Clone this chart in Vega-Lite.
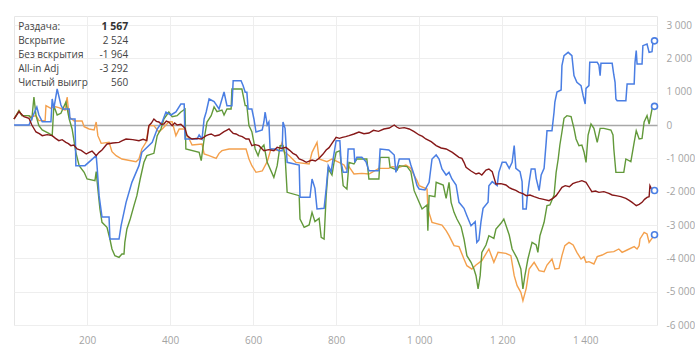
{
  "$schema": "https://vega.github.io/schema/vega-lite/v6.json",
  "width": 643,
  "height": 309,
  "padding": {"left": 11, "top": 16, "right": 0, "bottom": 0},
  "config": {
    "locale": {"number": {"decimal": ",", "thousands": " ", "grouping": [3], "currency": ["", ""], "minus": "-"}},
    "view": {"stroke": "#e6e6e6"},
    "font": "Open Sans",
    "axis": {"labelFont": "Open Sans", "labelFontSize": 10, "labelColor": "#a3a3a3", "gridColor": "#eeeeee", "domain": false, "ticks": false, "title": null, "labelOverlap": false}
  },
  "datasets": {
    "showdown": [
      {"h":24,"v":0},{"h":60,"v":0},{"h":67,"v":200},{"h":79,"v":540},{"h":84,"v":300},{"h":92,"v":100},{"h":113,"v":100},{"h":116,"v":780},{"h":120,"v":500},{"h":128,"v":1080},{"h":137,"v":600},{"h":142,"v":480},{"h":157,"v":480},{"h":159,"v":180},{"h":171,"v":180},{"h":173,"v":-1220},{"h":195,"v":-1220},{"h":222,"v":-920},{"h":224,"v":-1220},{"h":229,"v":-2120},{"h":236,"v":-2760},{"h":253,"v":-2760},{"h":255,"v":-3420},{"h":277,"v":-3420},{"h":282,"v":-3020},{"h":294,"v":-2320},{"h":308,"v":-1720},{"h":325,"v":-1220},{"h":332,"v":-820},{"h":357,"v":-520},{"h":369,"v":-120},{"h":381,"v":90},{"h":390,"v":390},{"h":402,"v":300},{"h":414,"v":390},{"h":426,"v":630},{"h":434,"v":630},{"h":436,"v":-420},{"h":465,"v":-420},{"h":470,"v":-300},{"h":477,"v":-420},{"h":482,"v":180},{"h":487,"v":390},{"h":494,"v":780},{"h":506,"v":700},{"h":518,"v":480},{"h":530,"v":990},{"h":537,"v":580},{"h":549,"v":580},{"h":552,"v":1330},{"h":571,"v":1330},{"h":576,"v":1180},{"h":581,"v":980},{"h":585,"v":980},{"h":588,"v":480},{"h":597,"v":480},{"h":602,"v":180},{"h":607,"v":-210},{"h":622,"v":-150},{"h":626,"v":90},{"h":629,"v":390},{"h":634,"v":0},{"h":638,"v":90},{"h":641,"v":-720},{"h":655,"v":-720},{"h":662,"v":-770},{"h":670,"v":-770},{"h":672,"v":90},{"h":677,"v":-100},{"h":682,"v":-1120},{"h":711,"v":-1200},{"h":713,"v":-2170},{"h":737,"v":-2170},{"h":742,"v":-1620},{"h":749,"v":-1900},{"h":754,"v":-2520},{"h":771,"v":-2500},{"h":776,"v":-1920},{"h":781,"v":-1220},{"h":788,"v":-1400},{"h":793,"v":-1000},{"h":800,"v":-470},{"h":809,"v":-470},{"h":812,"v":-1120},{"h":817,"v":-1420},{"h":826,"v":-1420},{"h":829,"v":-720},{"h":843,"v":-720},{"h":845,"v":-1120},{"h":850,"v":-970},{"h":862,"v":-970},{"h":872,"v":-1100},{"h":879,"v":-1370},{"h":903,"v":-1370},{"h":906,"v":-720},{"h":927,"v":-750},{"h":940,"v":-900},{"h":944,"v":-1420},{"h":952,"v":-1020},{"h":976,"v":-1020},{"h":980,"v":-1200},{"h":988,"v":-1500},{"h":995,"v":-1820},{"h":1000,"v":-1920},{"h":1014,"v":-1950},{"h":1024,"v":-1720},{"h":1031,"v":-1020},{"h":1041,"v":-900},{"h":1048,"v":-1020},{"h":1055,"v":-1320},{"h":1065,"v":-1500},{"h":1072,"v":-1420},{"h":1079,"v":-1620},{"h":1089,"v":-1800},{"h":1096,"v":-2320},{"h":1108,"v":-2500},{"h":1115,"v":-2720},{"h":1125,"v":-3020},{"h":1135,"v":-2900},{"h":1139,"v":-3520},{"h":1144,"v":-3450},{"h":1149,"v":-2900},{"h":1154,"v":-2500},{"h":1166,"v":-2320},{"h":1168,"v":-1820},{"h":1176,"v":-1700},{"h":1188,"v":-1820},{"h":1192,"v":-1420},{"h":1200,"v":-1120},{"h":1209,"v":-1120},{"h":1217,"v":-1300},{"h":1224,"v":-1120},{"h":1229,"v":-620},{"h":1233,"v":-1300},{"h":1243,"v":-1400},{"h":1248,"v":-1700},{"h":1250,"v":-2520},{"h":1258,"v":-2520},{"h":1260,"v":-2200},{"h":1265,"v":-1720},{"h":1270,"v":-1320},{"h":1279,"v":-1320},{"h":1282,"v":-1600},{"h":1289,"v":-1970},{"h":1294,"v":-1500},{"h":1301,"v":-1300},{"h":1306,"v":-520},{"h":1308,"v":-170},{"h":1320,"v":-170},{"h":1325,"v":390},{"h":1327,"v":690},{"h":1332,"v":990},{"h":1342,"v":1050},{"h":1344,"v":1780},{"h":1349,"v":2080},{"h":1359,"v":2180},{"h":1368,"v":2080},{"h":1373,"v":1480},{"h":1380,"v":1280},{"h":1390,"v":1180},{"h":1395,"v":880},{"h":1400,"v":630},{"h":1402,"v":1100},{"h":1409,"v":1180},{"h":1411,"v":1880},{"h":1429,"v":1880},{"h":1433,"v":1800},{"h":1436,"v":1480},{"h":1438,"v":1850},{"h":1465,"v":1850},{"h":1469,"v":1500},{"h":1472,"v":1280},{"h":1474,"v":780},{"h":1477,"v":730},{"h":1498,"v":730},{"h":1501,"v":1230},{"h":1518,"v":1230},{"h":1520,"v":1880},{"h":1523,"v":2230},{"h":1525,"v":1830},{"h":1537,"v":1830},{"h":1539,"v":2380},{"h":1549,"v":2430},{"h":1554,"v":2180},{"h":1561,"v":2200},{"h":1563,"v":2450},{"h":1567,"v":2524}
    ],
    "net": [
      {"h":24,"v":180},{"h":36,"v":430},{"h":43,"v":280},{"h":60,"v":280},{"h":67,"v":180},{"h":72,"v":840},{"h":77,"v":280},{"h":84,"v":-20},{"h":92,"v":-150},{"h":108,"v":-250},{"h":116,"v":-320},{"h":120,"v":580},{"h":128,"v":300},{"h":137,"v":350},{"h":149,"v":690},{"h":157,"v":180},{"h":164,"v":-120},{"h":173,"v":-820},{"h":181,"v":-1220},{"h":193,"v":-1420},{"h":200,"v":-1620},{"h":219,"v":-1670},{"h":222,"v":-1400},{"h":226,"v":-1920},{"h":231,"v":-2520},{"h":236,"v":-2920},{"h":248,"v":-3070},{"h":255,"v":-3420},{"h":260,"v":-3720},{"h":267,"v":-3920},{"h":277,"v":-3970},{"h":284,"v":-3870},{"h":289,"v":-3870},{"h":291,"v":-3520},{"h":296,"v":-3120},{"h":304,"v":-2820},{"h":313,"v":-2420},{"h":320,"v":-2120},{"h":328,"v":-1620},{"h":337,"v":-1120},{"h":344,"v":-920},{"h":361,"v":-850},{"h":369,"v":-320},{"h":378,"v":-120},{"h":385,"v":180},{"h":397,"v":390},{"h":405,"v":250},{"h":417,"v":280},{"h":426,"v":390},{"h":436,"v":480},{"h":438,"v":-720},{"h":470,"v":-820},{"h":475,"v":-1070},{"h":482,"v":-420},{"h":489,"v":90},{"h":499,"v":280},{"h":506,"v":540},{"h":513,"v":400},{"h":525,"v":450},{"h":530,"v":300},{"h":537,"v":480},{"h":547,"v":480},{"h":549,"v":1080},{"h":573,"v":1080},{"h":581,"v":580},{"h":585,"v":580},{"h":590,"v":-20},{"h":597,"v":-200},{"h":605,"v":-720},{"h":612,"v":-920},{"h":617,"v":-720},{"h":626,"v":-600},{"h":634,"v":-1120},{"h":650,"v":-1570},{"h":658,"v":-1220},{"h":665,"v":-620},{"h":672,"v":-620},{"h":677,"v":-920},{"h":682,"v":-2020},{"h":711,"v":-2120},{"h":713,"v":-2820},{"h":723,"v":-3070},{"h":735,"v":-3000},{"h":742,"v":-2620},{"h":749,"v":-2900},{"h":759,"v":-2800},{"h":764,"v":-3370},{"h":771,"v":-3420},{"h":776,"v":-2120},{"h":781,"v":-1320},{"h":790,"v":-1500},{"h":795,"v":-1120},{"h":800,"v":-820},{"h":809,"v":-770},{"h":817,"v":-1820},{"h":826,"v":-1920},{"h":831,"v":-1120},{"h":843,"v":-1170},{"h":850,"v":-1020},{"h":874,"v":-1020},{"h":879,"v":-1620},{"h":903,"v":-1620},{"h":906,"v":-970},{"h":927,"v":-970},{"h":930,"v":-1270},{"h":947,"v":-1350},{"h":952,"v":-1220},{"h":971,"v":-1250},{"h":980,"v":-1400},{"h":988,"v":-1970},{"h":1000,"v":-2320},{"h":1007,"v":-2520},{"h":1019,"v":-2400},{"h":1021,"v":-3170},{"h":1024,"v":-2120},{"h":1038,"v":-2150},{"h":1041,"v":-1720},{"h":1058,"v":-1800},{"h":1065,"v":-2200},{"h":1072,"v":-1720},{"h":1077,"v":-2320},{"h":1084,"v":-2620},{"h":1091,"v":-2820},{"h":1101,"v":-3050},{"h":1108,"v":-3420},{"h":1115,"v":-3920},{"h":1125,"v":-4120},{"h":1132,"v":-4320},{"h":1137,"v":-4520},{"h":1142,"v":-4920},{"h":1147,"v":-4520},{"h":1151,"v":-3820},{"h":1161,"v":-3600},{"h":1168,"v":-3320},{"h":1180,"v":-3400},{"h":1185,"v":-3120},{"h":1197,"v":-2950},{"h":1204,"v":-2820},{"h":1217,"v":-3300},{"h":1224,"v":-3720},{"h":1236,"v":-4000},{"h":1245,"v":-4320},{"h":1250,"v":-4920},{"h":1255,"v":-4500},{"h":1262,"v":-4020},{"h":1272,"v":-3520},{"h":1282,"v":-3600},{"h":1286,"v":-3820},{"h":1291,"v":-3320},{"h":1301,"v":-2920},{"h":1308,"v":-2420},{"h":1315,"v":-2400},{"h":1325,"v":-2100},{"h":1330,"v":-1420},{"h":1335,"v":-1020},{"h":1339,"v":-600},{"h":1344,"v":-210},{"h":1349,"v":200},{"h":1356,"v":280},{"h":1366,"v":250},{"h":1373,"v":-100},{"h":1378,"v":-420},{"h":1385,"v":-620},{"h":1392,"v":-600},{"h":1397,"v":-800},{"h":1402,"v":-1120},{"h":1407,"v":-300},{"h":1414,"v":30},{"h":1421,"v":-100},{"h":1429,"v":-520},{"h":1436,"v":-100},{"h":1445,"v":-100},{"h":1462,"v":-150},{"h":1467,"v":-300},{"h":1469,"v":-720},{"h":1474,"v":-1420},{"h":1493,"v":-1420},{"h":1498,"v":-1020},{"h":1510,"v":-1100},{"h":1518,"v":-520},{"h":1523,"v":-170},{"h":1530,"v":-420},{"h":1537,"v":-400},{"h":1542,"v":90},{"h":1549,"v":280},{"h":1554,"v":30},{"h":1561,"v":480},{"h":1567,"v":560}
    ],
    "allin": [
      {"h":24,"v":180},{"h":36,"v":430},{"h":43,"v":280},{"h":60,"v":280},{"h":67,"v":250},{"h":77,"v":280},{"h":84,"v":130},{"h":99,"v":130},{"h":101,"v":580},{"h":113,"v":500},{"h":120,"v":560},{"h":132,"v":520},{"h":140,"v":480},{"h":147,"v":450},{"h":152,"v":840},{"h":157,"v":240},{"h":169,"v":120},{"h":188,"v":120},{"h":193,"v":-50},{"h":205,"v":-120},{"h":217,"v":-150},{"h":222,"v":90},{"h":226,"v":-320},{"h":234,"v":-550},{"h":253,"v":-520},{"h":260,"v":-800},{"h":270,"v":-920},{"h":284,"v":-1020},{"h":318,"v":-1100},{"h":325,"v":-1020},{"h":332,"v":-720},{"h":342,"v":-520},{"h":349,"v":-20},{"h":361,"v":-20},{"h":373,"v":-210},{"h":381,"v":-120},{"h":397,"v":90},{"h":405,"v":100},{"h":414,"v":-320},{"h":422,"v":-120},{"h":434,"v":-120},{"h":441,"v":-320},{"h":446,"v":-420},{"h":453,"v":-600},{"h":477,"v":-570},{"h":482,"v":-870},{"h":494,"v":-920},{"h":511,"v":-1000},{"h":518,"v":-850},{"h":525,"v":-770},{"h":542,"v":-720},{"h":583,"v":-720},{"h":590,"v":-1020},{"h":597,"v":-1220},{"h":607,"v":-1420},{"h":622,"v":-1380},{"h":634,"v":-1100},{"h":643,"v":-720},{"h":662,"v":-770},{"h":670,"v":-520},{"h":675,"v":-800},{"h":687,"v":-920},{"h":703,"v":-1120},{"h":735,"v":-1170},{"h":742,"v":-820},{"h":754,"v":-520},{"h":759,"v":-1020},{"h":778,"v":-1100},{"h":790,"v":-1020},{"h":807,"v":-1120},{"h":819,"v":-1200},{"h":824,"v":-1320},{"h":831,"v":-1250},{"h":843,"v":-1470},{"h":862,"v":-1450},{"h":879,"v":-1470},{"h":903,"v":-1300},{"h":927,"v":-1300},{"h":935,"v":-1250},{"h":952,"v":-1270},{"h":968,"v":-1200},{"h":980,"v":-1300},{"h":988,"v":-1520},{"h":995,"v":-1670},{"h":1000,"v":-1820},{"h":1019,"v":-1920},{"h":1021,"v":-2520},{"h":1031,"v":-2920},{"h":1055,"v":-3000},{"h":1065,"v":-3170},{"h":1072,"v":-3320},{"h":1084,"v":-3620},{"h":1096,"v":-3650},{"h":1108,"v":-4020},{"h":1115,"v":-4220},{"h":1127,"v":-4320},{"h":1137,"v":-4200},{"h":1151,"v":-4070},{"h":1168,"v":-3720},{"h":1180,"v":-4120},{"h":1190,"v":-3820},{"h":1209,"v":-3850},{"h":1221,"v":-3920},{"h":1229,"v":-4520},{"h":1236,"v":-4820},{"h":1245,"v":-5020},{"h":1250,"v":-5270},{"h":1258,"v":-4900},{"h":1265,"v":-4320},{"h":1277,"v":-4120},{"h":1289,"v":-4370},{"h":1301,"v":-4400},{"h":1308,"v":-4200},{"h":1320,"v":-4020},{"h":1327,"v":-4320},{"h":1337,"v":-4300},{"h":1344,"v":-3920},{"h":1351,"v":-3620},{"h":1361,"v":-3520},{"h":1371,"v":-3600},{"h":1380,"v":-3820},{"h":1390,"v":-4020},{"h":1397,"v":-3950},{"h":1402,"v":-4120},{"h":1409,"v":-4100},{"h":1421,"v":-4170},{"h":1429,"v":-3950},{"h":1441,"v":-3900},{"h":1453,"v":-3820},{"h":1469,"v":-3800},{"h":1481,"v":-3720},{"h":1489,"v":-3820},{"h":1501,"v":-3750},{"h":1518,"v":-3650},{"h":1525,"v":-3720},{"h":1530,"v":-3620},{"h":1532,"v":-3420},{"h":1542,"v":-3220},{"h":1549,"v":-3270},{"h":1554,"v":-3520},{"h":1567,"v":-3292}
    ],
    "nonshowdown": [
      {"h":24,"v":180},{"h":36,"v":400},{"h":48,"v":250},{"h":60,"v":200},{"h":67,"v":0},{"h":77,"v":-210},{"h":85,"v":-260},{"h":92,"v":-320},{"h":104,"v":-290},{"h":116,"v":-320},{"h":124,"v":-400},{"h":132,"v":-470},{"h":140,"v":-440},{"h":149,"v":-520},{"h":155,"v":-560},{"h":161,"v":-620},{"h":168,"v":-600},{"h":176,"v":-720},{"h":186,"v":-760},{"h":198,"v":-870},{"h":205,"v":-820},{"h":212,"v":-780},{"h":217,"v":-850},{"h":222,"v":-920},{"h":229,"v":-820},{"h":236,"v":-750},{"h":248,"v":-570},{"h":262,"v":-540},{"h":277,"v":-520},{"h":285,"v":-470},{"h":294,"v":-420},{"h":310,"v":-440},{"h":325,"v":-470},{"h":335,"v":-430},{"h":344,"v":-470},{"h":349,"v":-20},{"h":355,"v":60},{"h":361,"v":180},{"h":367,"v":110},{"h":373,"v":90},{"h":379,"v":20},{"h":385,"v":30},{"h":391,"v":120},{"h":397,"v":90},{"h":405,"v":-20},{"h":411,"v":60},{"h":417,"v":0},{"h":426,"v":20},{"h":436,"v":-100},{"h":441,"v":-320},{"h":447,"v":-380},{"h":453,"v":-420},{"h":464,"v":-400},{"h":475,"v":-420},{"h":487,"v":-320},{"h":493,"v":-290},{"h":499,"v":-270},{"h":508,"v":-330},{"h":518,"v":-300},{"h":530,"v":-200},{"h":536,"v":-160},{"h":542,"v":-120},{"h":547,"v":-190},{"h":552,"v":-250},{"h":559,"v":-270},{"h":566,"v":-320},{"h":574,"v":-350},{"h":583,"v":-420},{"h":590,"v":-420},{"h":597,"v":-620},{"h":605,"v":-590},{"h":614,"v":-620},{"h":626,"v":-770},{"h":638,"v":-740},{"h":650,"v":-770},{"h":658,"v":-670},{"h":668,"v":-700},{"h":679,"v":-670},{"h":688,"v":-760},{"h":696,"v":-850},{"h":704,"v":-900},{"h":711,"v":-1020},{"h":720,"v":-1060},{"h":728,"v":-1120},{"h":742,"v":-1050},{"h":750,"v":-1080},{"h":759,"v":-1000},{"h":768,"v":-880},{"h":776,"v":-750},{"h":783,"v":-680},{"h":790,"v":-550},{"h":800,"v":-370},{"h":808,"v":-400},{"h":815,"v":-370},{"h":823,"v":-350},{"h":831,"v":-320},{"h":843,"v":-270},{"h":855,"v":-210},{"h":867,"v":-260},{"h":879,"v":-240},{"h":890,"v":-160},{"h":902,"v":-190},{"h":915,"v":-120},{"h":928,"v":-90},{"h":940,"v":0},{"h":946,"v":-60},{"h":952,"v":-100},{"h":964,"v":-80},{"h":976,"v":-120},{"h":988,"v":-200},{"h":1000,"v":-300},{"h":1008,"v":-340},{"h":1016,"v":-420},{"h":1029,"v":-500},{"h":1041,"v":-620},{"h":1053,"v":-690},{"h":1065,"v":-720},{"h":1080,"v":-820},{"h":1096,"v":-970},{"h":1103,"v":-1000},{"h":1108,"v":-1120},{"h":1113,"v":-1270},{"h":1125,"v":-1380},{"h":1137,"v":-1470},{"h":1144,"v":-1440},{"h":1151,"v":-1500},{"h":1161,"v":-1350},{"h":1168,"v":-1320},{"h":1176,"v":-1400},{"h":1185,"v":-1770},{"h":1197,"v":-1760},{"h":1209,"v":-1800},{"h":1217,"v":-1880},{"h":1224,"v":-1920},{"h":1233,"v":-1960},{"h":1241,"v":-2020},{"h":1250,"v":-2060},{"h":1258,"v":-2120},{"h":1267,"v":-2100},{"h":1277,"v":-2150},{"h":1289,"v":-2200},{"h":1300,"v":-2230},{"h":1313,"v":-2270},{"h":1322,"v":-2200},{"h":1330,"v":-2120},{"h":1337,"v":-2000},{"h":1344,"v":-1870},{"h":1352,"v":-1820},{"h":1362,"v":-1850},{"h":1370,"v":-1760},{"h":1378,"v":-1720},{"h":1385,"v":-1700},{"h":1392,"v":-1670},{"h":1402,"v":-1720},{"h":1409,"v":-1860},{"h":1416,"v":-2000},{"h":1425,"v":-1980},{"h":1433,"v":-2020},{"h":1445,"v":-2000},{"h":1457,"v":-2050},{"h":1465,"v":-2100},{"h":1474,"v":-2120},{"h":1486,"v":-2150},{"h":1498,"v":-2200},{"h":1506,"v":-2260},{"h":1513,"v":-2320},{"h":1518,"v":-2370},{"h":1523,"v":-2420},{"h":1530,"v":-2380},{"h":1537,"v":-2320},{"h":1543,"v":-2230},{"h":1549,"v":-2170},{"h":1554,"v":-2150},{"h":1556,"v":-1820},{"h":1561,"v":-1950},{"h":1567,"v":-1964}
    ],
    "ends": [
      {"h":1567,"v":2524},{"h":1567,"v":560},{"h":1567,"v":-1964},{"h":1567,"v":-3292}
    ],
    "summary": [
      {"label":"Раздача:","value":1567},
      {"label":"Вскрытие","value":2524},
      {"label":"Без вскрытия","value":-1964},
      {"label":"All-in Adj","value":-3292},
      {"label":"Чистый выигрыш","value":560}
    ]
  },
  "layer": [
    {
      "encoding": {
        "x": {"field": "h", "type": "quantitative", "scale": {"domain": [24, 1573], "nice": false, "zero": false},
              "axis": {"values": [200, 400, 600, 800, 1000, 1200, 1400], "format": ",d", "grid": true, "labelPadding": 10}},
        "y": {"field": "v", "type": "quantitative", "scale": {"domain": [-6000, 3270], "nice": false, "zero": false},
              "axis": {"orient": "right", "values": [-6000, -5000, -4000, -3000, -2000, -1000, 0, 1000, 2000, 3000], "format": ",d", "grid": true, "labelPadding": 9,
                       "gridColor": {"condition": {"test": "datum.value === 0", "value": "#a8a8a8"}, "value": "#eeeeee"},
                       "gridWidth": {"condition": {"test": "datum.value === 0", "value": 1.6}, "value": 1}}}
      },
      "layer": [
        {"data": {"name": "allin"}, "mark": {"type": "line", "color": "#f4a04c", "strokeWidth": 1.4}},
        {"data": {"name": "net"}, "mark": {"type": "line", "color": "#62993a", "strokeWidth": 1.4}},
        {"data": {"name": "showdown"}, "mark": {"type": "line", "color": "#4a7ee3", "strokeWidth": 1.5}},
        {"data": {"name": "nonshowdown"}, "mark": {"type": "line", "color": "#861818", "strokeWidth": 1.4}},
        {"data": {"name": "ends"}, "mark": {"type": "point", "shape": "circle", "filled": false, "fill": "#ffffff", "fillOpacity": 1, "stroke": "#4a7ee3", "strokeWidth": 1.6, "size": 36, "opacity": 1}}
      ]
    },
    {
      "data": {"name": "summary"},
      "mark": {"type": "text", "align": "left", "baseline": "middle", "fontSize": 10, "font": "Open Sans", "color": "#444444", "limit": 73, "ellipsis": "\u200b"},
      "encoding": {
        "x": {"datum": 34, "type": "quantitative"},
        "y": {"field": "label", "type": "nominal", "sort": null,
              "scale": {"type": "point", "domain": ["Раздача:", "Вскрытие", "Без вскрытия", "All-in Adj", "Чистый выигрыш"], "range": [10.5, 67], "padding": 0},
              "axis": null},
        "text": {"field": "label"}
      }
    },
    {
      "data": {"name": "summary"},
      "transform": [{"filter": "datum.label !== 'Раздача:'"}],
      "mark": {"type": "text", "align": "right", "baseline": "middle", "fontSize": 10, "font": "Open Sans", "color": "#444444"},
      "encoding": {
        "x": {"datum": 299, "type": "quantitative"},
        "y": {"field": "label", "type": "nominal", "sort": null,
              "scale": {"type": "point", "domain": ["Раздача:", "Вскрытие", "Без вскрытия", "All-in Adj", "Чистый выигрыш"], "range": [10.5, 67], "padding": 0},
              "axis": null},
        "text": {"field": "value", "type": "quantitative", "format": ",d"}
      }
    },
    {
      "data": {"name": "summary"},
      "transform": [{"filter": "datum.label === 'Раздача:'"}],
      "mark": {"type": "text", "align": "right", "baseline": "middle", "fontSize": 10.5, "font": "Open Sans", "fontWeight": "bold", "color": "#333333"},
      "encoding": {
        "x": {"datum": 299, "type": "quantitative"},
        "y": {"field": "label", "type": "nominal", "sort": null,
              "scale": {"type": "point", "domain": ["Раздача:", "Вскрытие", "Без вскрытия", "All-in Adj", "Чистый выигрыш"], "range": [10.5, 67], "padding": 0},
              "axis": null},
        "text": {"field": "value", "type": "quantitative", "format": ",d"}
      }
    }
  ],
  "resolve": {"scale": {"y": "independent"}}
}
